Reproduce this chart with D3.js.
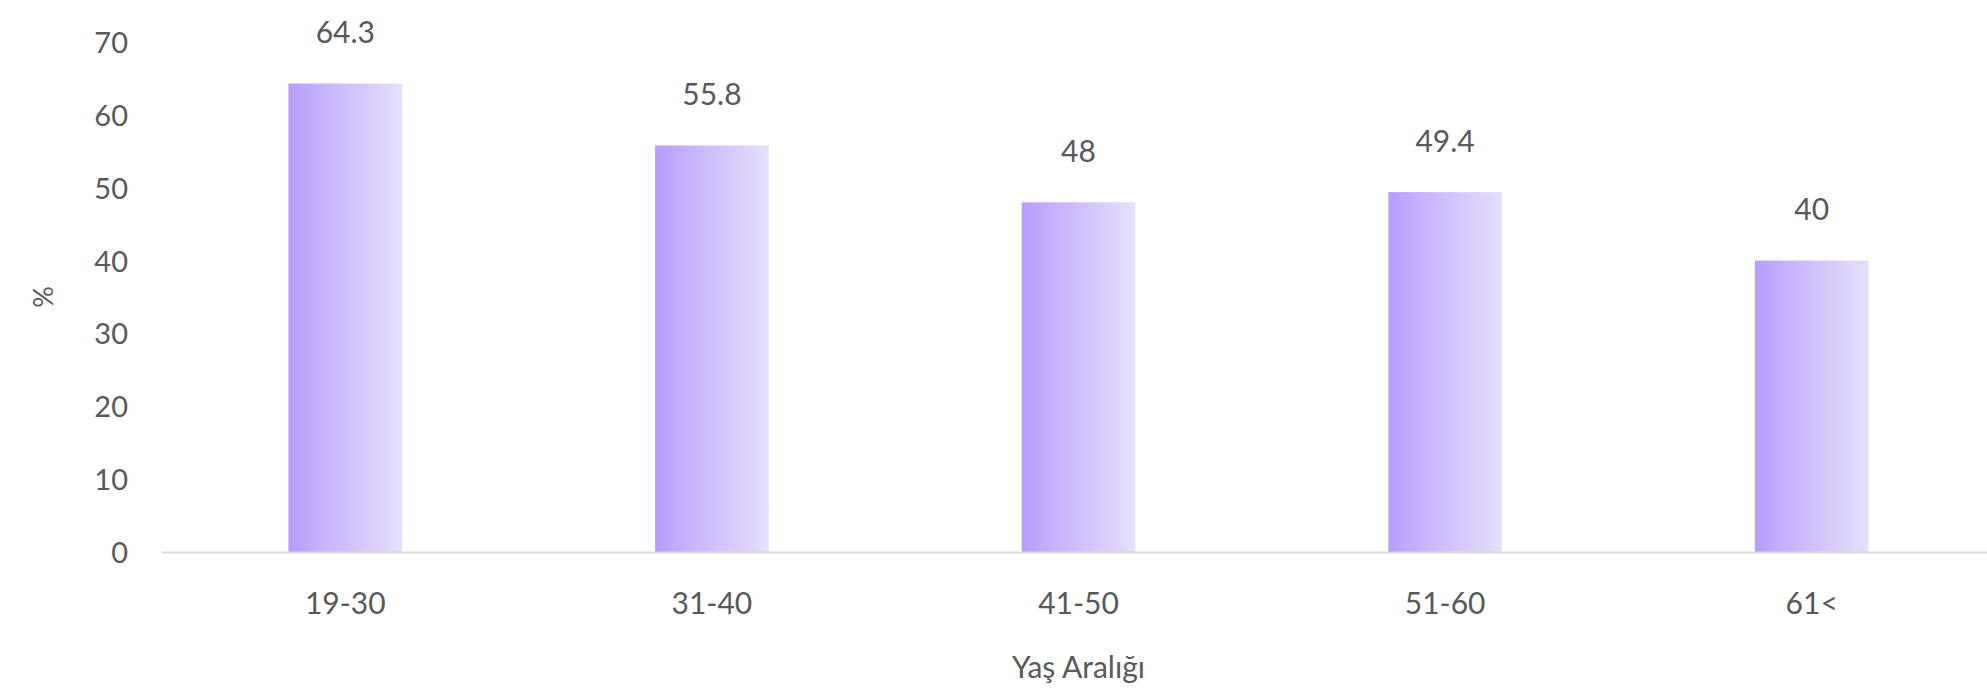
<!DOCTYPE html>
<html>
<head>
<meta charset="utf-8">
<script src="https://cdn.jsdelivr.net/npm/d3@7"></script>
<style>
  body { margin: 0; background: #fff; }
  svg text { font-family: Lato, "Noto Sans", sans-serif; fill: #595959; }
</style>
</head>
<body>
<svg id="chart"></svg>
<script>
const categories = ["19-30", "31-40", "41-50", "51-60", "61<"];
const values = [64.3, 55.8, 48, 49.4, 40];
const yTicks = [0, 10, 20, 30, 40, 50, 60, 70];

const width = 1987;
const height = 689;
const margins = { top: 42, right: -8, bottom: 137, left: 162 };

const svg = d3.select("#chart")
    .attr("width", width)
    .attr("height", height);

const defs = svg.append("defs");
const grad = defs.append("linearGradient")
    .attr("id", "barGrad")
    .attr("x1", "0%").attr("x2", "100%")
    .attr("y1", "0%").attr("y2", "0%");
grad.append("stop").attr("offset", "0%").attr("stop-color", "#b69dfb");
grad.append("stop").attr("offset", "45%").attr("stop-color", "#cdbcfc");
grad.append("stop").attr("offset", "100%").attr("stop-color", "#e6dffd");

const xScale = d3.scaleBand()
    .domain(categories)
    .range([margins.left, width - margins.right])
    .paddingInner(0.69)
    .paddingOuter(0.345);

const yScale = d3.scaleLinear()
    .domain([0, 70])
    .range([height - margins.bottom, margins.top]);

// y axis labels only, no line
const yAxis = svg.append("g")
    .attr("transform", `translate(${margins.left - 34}, 0)`)
    .call(d3.axisLeft(yScale).tickValues(yTicks).tickSize(0).tickPadding(0));
yAxis.select(".domain").remove();
yAxis.selectAll("text").attr("font-size", "29px").attr("dy", "0.36em");

// bars
svg.append("g")
    .selectAll("rect")
    .data(values)
    .join("rect")
    .attr("x", (d, i) => xScale(categories[i]))
    .attr("y", d => yScale(d))
    .attr("width", xScale.bandwidth())
    .attr("height", d => yScale(0) - yScale(d))
    .attr("fill", "url(#barGrad)");

// baseline
svg.append("line")
    .attr("x1", margins.left)
    .attr("x2", width)
    .attr("y1", yScale(0) + 0.5)
    .attr("y2", yScale(0) + 0.5)
    .attr("stroke", "#d9d9d9")
    .attr("stroke-width", 2);

// value labels
svg.append("g")
    .selectAll("text")
    .data(values)
    .join("text")
    .attr("x", (d, i) => xScale(categories[i]) + xScale.bandwidth() / 2)
    .attr("y", d => yScale(d) - 51)
    .attr("text-anchor", "middle")
    .attr("dy", "0.36em")
    .attr("font-size", "30px")
    .text(d => d);

// x axis labels
const xAxis = svg.append("g")
    .attr("transform", `translate(0, ${yScale(0)})`)
    .call(d3.axisBottom(xScale).tickSize(0).tickPadding(0));
xAxis.select(".domain").remove();
xAxis.selectAll("text")
    .attr("font-size", "30px")
    .attr("dy", "0.36em")
    .attr("y", 51);

// axis titles
svg.append("text")
    .attr("transform", `translate(43, ${(yScale(0) + yScale(70)) / 2}) rotate(-90)`)
    .attr("text-anchor", "middle")
    .attr("dy", "0.36em")
    .attr("font-size", "27px")
    .text("%");

svg.append("text")
    .attr("x", (margins.left + width - margins.right) / 2)
    .attr("y", 667)
    .attr("text-anchor", "middle")
    .attr("dy", "0.36em")
    .attr("font-size", "30px")
    .text("Yaş Aralığı");
</script>
</body>
</html>
